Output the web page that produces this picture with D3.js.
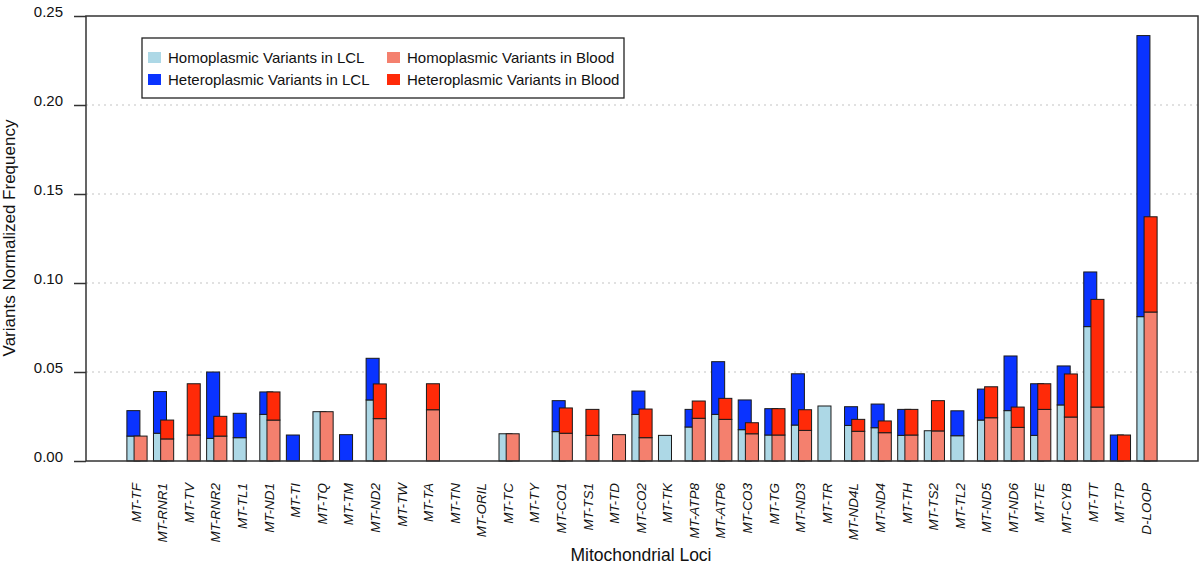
<!DOCTYPE html>
<html>
<head>
<meta charset="utf-8">
<script src="https://cdn.jsdelivr.net/npm/d3@7"></script>
<style>
  body { margin: 0; background: #fff; }
  svg text { font-family: "Liberation Sans", Arial, Helvetica, sans-serif; fill: #111; }
</style>
</head>
<body>
<script>
// loci along the mitochondrial genome
var loci = ['MT-TF', 'MT-RNR1', 'MT-TV', 'MT-RNR2', 'MT-TL1', 'MT-ND1', 'MT-TI', 'MT-TQ',
  'MT-TM', 'MT-ND2', 'MT-TW', 'MT-TA', 'MT-TN', 'MT-ORIL', 'MT-TC', 'MT-TY', 'MT-CO1',
  'MT-TS1', 'MT-TD', 'MT-CO2', 'MT-TK', 'MT-ATP8', 'MT-ATP6', 'MT-CO3', 'MT-TG', 'MT-ND3',
  'MT-TR', 'MT-ND4L', 'MT-ND4', 'MT-TH', 'MT-TS2', 'MT-TL2', 'MT-ND5', 'MT-ND6', 'MT-TE',
  'MT-CYB', 'MT-TT', 'MT-TP', 'D-LOOP'];

// normalized frequencies
var lclHomo = [0.0140, 0.0156, 0, 0.0127, 0.0131, 0.0262, 0, 0.0277, 0, 0.0343, 0, 0, 0, 0,
  0.0153, 0, 0.0165, 0, 0, 0.0262, 0.0144, 0.0191, 0.0262, 0.0176, 0.0146, 0.0202, 0.0309,
  0.0200, 0.0187, 0.0144, 0.0170, 0.0142, 0.0230, 0.0283, 0.0144, 0.0315, 0.0755, 0, 0.0811];
var lclHet = [0.0143, 0.0234, 0, 0.0373, 0.0137, 0.0126, 0.0146, 0, 0.0148, 0.0234, 0, 0, 0, 0,
  0, 0, 0.0174, 0, 0, 0.0131, 0, 0.0099, 0.0296, 0.0167, 0.0148, 0.0288, 0,
  0.0105, 0.0133, 0.0146, 0, 0.0140, 0.0174, 0.0307, 0.0290, 0.0219, 0.0307, 0.0146, 0.1579];
var bloodHomo = [0.0140, 0.0124, 0.0146, 0.0140, 0, 0.0230, 0, 0.0277, 0, 0.0238, 0, 0.0288, 0, 0,
  0.0153, 0, 0.0156, 0.0144, 0.0148, 0.0131, 0, 0.0240, 0.0234, 0.0153, 0.0146, 0.0172, 0,
  0.0167, 0.0159, 0.0146, 0.0169, 0, 0.0243, 0.0189, 0.0290, 0.0247, 0.0303, 0, 0.0837];
var bloodHet = [0, 0.0106, 0.0288, 0.0111, 0, 0.0158, 0, 0, 0, 0.0195, 0, 0.0146, 0, 0,
  0, 0, 0.0142, 0.0146, 0, 0.0161, 0, 0.0097, 0.0118, 0.0062, 0.0148, 0.0116, 0,
  0.0067, 0.0066, 0.0144, 0.0170, 0, 0.0174, 0.0114, 0.0144, 0.0242, 0.0605, 0.0146, 0.0535];

var yTicks = [0, 0.05, 0.10, 0.15, 0.20, 0.25];
var gridTicks = [0.05, 0.10, 0.15, 0.20];

var legendItems = [
  { label: 'Homoplasmic Variants in LCL', color: '#add8e6' },
  { label: 'Heteroplasmic Variants in LCL', color: '#0a33ff' },
  { label: 'Homoplasmic Variants in Blood', color: '#f4806e' },
  { label: 'Heteroplasmic Variants in Blood', color: '#ff2a08' }
];

const WIDTH = 1200, HEIGHT = 567;
const PLOT_LEFT = 86, PLOT_RIGHT = 1198, PLOT_TOP = 16, PLOT_BOTTOM = 461;
const FRAME = '#333';

var svg = d3.select('body').append('svg')
  .attr('width', WIDTH)
  .attr('height', HEIGHT);

// scales
var x = d3.scaleBand()
  .domain(loci)
  .range([123.7, 1160.3])
  .padding(0);
var step = x.step();
var barW = step * 0.49;
var offset = step * 0.135;

var y = d3.scaleLinear()
  .domain([0, 0.25])
  .range([PLOT_BOTTOM, PLOT_TOP]);

// dotted gridlines
svg.append('g')
  .selectAll('line')
  .data(gridTicks)
  .join('line')
    .attr('x1', PLOT_LEFT)
    .attr('x2', PLOT_RIGHT)
    .attr('y1', function (d) { return y(d); })
    .attr('y2', function (d) { return y(d); })
    .attr('stroke', '#c4c4c4')
    .attr('stroke-width', 1.2)
    .attr('stroke-dasharray', '2,4');

// build stacked tables
var lclRows = loci.map(function (l, i) { return { locus: l, homo: lclHomo[i], het: lclHet[i] }; });
var bloodRows = loci.map(function (l, i) { return { locus: l, homo: bloodHomo[i], het: bloodHet[i] }; });
var stack = d3.stack().keys(['homo', 'het']);

var samples = [
  { rows: lclRows, shift: -offset - barW / 2, colors: { homo: legendItems[0].color, het: legendItems[1].color } },
  { rows: bloodRows, shift: offset - barW / 2, colors: { homo: legendItems[2].color, het: legendItems[3].color } }
];

var bars = svg.append('g');
loci.forEach(function (locus, i) {
  samples.forEach(function (s) {
    var series = stack(s.rows);
    series.forEach(function (layer) {
      var seg = layer[i];
      if (seg[1] - seg[0] <= 0) return;
      bars.append('rect')
        .attr('x', x(locus) + step / 2 + s.shift)
        .attr('y', y(seg[1]))
        .attr('width', barW)
        .attr('height', y(seg[0]) - y(seg[1]))
        .attr('fill', s.colors[layer.key])
        .attr('stroke', '#1a1a1a')
        .attr('stroke-width', 1);
    });
  });
});

// frame
svg.append('rect')
  .attr('x', PLOT_LEFT)
  .attr('y', PLOT_TOP)
  .attr('width', PLOT_RIGHT - PLOT_LEFT)
  .attr('height', PLOT_BOTTOM - PLOT_TOP)
  .attr('fill', 'none')
  .attr('stroke', FRAME)
  .attr('stroke-width', 1.5);

// y axis
var yAxis = svg.append('g')
  .attr('transform', 'translate(' + PLOT_LEFT + ',0)')
  .call(d3.axisLeft(y).tickValues(yTicks).tickSize(12).tickPadding(11)
    .tickFormat(d3.format('.2f')));
yAxis.select('.domain').remove();
yAxis.selectAll('.tick line').attr('stroke', FRAME).attr('stroke-width', 1.5);
yAxis.selectAll('.tick text')
  .attr('dy', '0')
  .style('font-size', '15px')
  .style('font-family', '"Liberation Sans", Arial, sans-serif')
  .attr('fill', '#111');

// locus labels
svg.append('g')
  .selectAll('text')
  .data(loci)
  .join('text')
    .attr('transform', function (d) {
      return 'translate(' + (x(d) + step / 2 - 1) + ',483) rotate(-90)';
    })
    .attr('dy', '0.35em')
    .attr('text-anchor', 'end')
    .style('font-size', '13.5px')
    .style('font-style', 'italic')
    .text(function (d) { return d; });

// axis titles
svg.append('text')
  .attr('x', 641)
  .attr('y', 561)
  .attr('text-anchor', 'middle')
  .style('font-size', '17.5px')
  .text('Mitochondrial Loci');

svg.append('text')
  .attr('transform', 'translate(15,238) rotate(-90)')
  .attr('text-anchor', 'middle')
  .style('font-size', '17px')
  .text('Variants Normalized Frequency');

// legend
var legend = svg.append('g');
legend.append('rect')
  .attr('x', 142)
  .attr('y', 38)
  .attr('width', 482)
  .attr('height', 60)
  .attr('fill', '#fff')
  .attr('stroke', '#222')
  .attr('stroke-width', 1.3);

var legendPos = [[148, 52], [148, 74], [387, 52], [387, 74]];
legendItems.forEach(function (item, i) {
  var p = legendPos[i];
  legend.append('rect')
    .attr('x', p[0])
    .attr('y', p[1])
    .attr('width', 13)
    .attr('height', 11)
    .attr('fill', item.color);
  legend.append('text')
    .attr('x', p[0] + 20)
    .attr('y', p[1] + 11)
    .style('font-size', '15px')
    .text(item.label);
});
</script>
</body>
</html>
